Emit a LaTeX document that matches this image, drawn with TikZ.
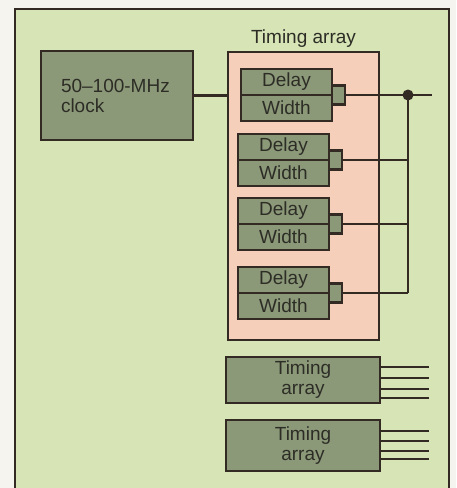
\documentclass[tikz,border=0pt]{standalone}
\usepackage{fontspec}
\setmainfont{Liberation Sans}
\usepackage{tikz}
\usetikzlibrary{calc,positioning}
\definecolor{tmPaper}{RGB}{246,244,238}
\definecolor{tmPanel}{RGB}{214,228,182}
\definecolor{tmBox}{RGB}{139,153,121}
\definecolor{tmPink}{RGB}{246,207,186}
\definecolor{tmInk}{RGB}{52,42,36}
\definecolor{tmText}{RGB}{45,45,38}

\begin{document}
\begin{tikzpicture}[x=1pt,y=-1pt,
  txt/.style={font=\fontsize{19}{20}\selectfont, text=tmText},
  box/.style={draw=tmInk, fill=tmBox, line width=2.6pt, inner sep=0pt, outer sep=0pt, txt},
  unit/.style={box, minimum width=91pt, minimum height=26pt},
  tap/.style={draw=tmInk, fill=tmBox, line width=2.4pt, inner sep=0pt, outer sep=0pt, minimum width=13pt, minimum height=19pt},
  wire/.style={tmInk, line width=2.3pt}]
\useasboundingbox[fill=tmPaper] (0,0) rectangle (456,488);
\fill[tmPanel] (15,9) rectangle (449,488);
\draw[tmInk, line width=2.6pt] (15,488) -- (15,9) -- (449,9) -- (449,488);

\node[box, anchor=north west, minimum width=152pt, minimum height=89pt, text width=112pt, align=left] (clock) at (41,51) {50--100-MHz\\clock};

\node[draw=tmInk, fill=tmPink, line width=2.6pt, outer sep=0pt, anchor=north west, minimum width=151pt, minimum height=288pt,
  label={[txt, label distance=1pt]above:Timing array}] (array) at (228,52) {};
\draw[wire] (clock.east) -- (clock.east -| array.west);

\foreach \i/\x/\y in {1/241/69, 2/238/134, 3/238/198, 4/238/267}{
  \node[unit, anchor=north west] (delay\i) at (\x,\y) {Delay};
  \node[unit, anchor=north] (width\i) at (delay\i.south) {Width};
  \node[tap, anchor=west] (tap\i) at (delay\i.south east) {};
}

\coordinate (dot) at (408,95);
\coordinate (out) at (432,95);
\draw[wire] (tap1.east) -- (out);
\foreach \i in {2,3,4}
  \draw[wire] (tap\i.east) -- (tap\i.east -| dot);
\draw[wire] (dot) -- (dot |- tap4.east);
\fill[tmInk] (dot) circle (5.5);

\node[box, anchor=north west, minimum width=154pt, minimum height=46pt, align=center] (lower1) at (226,357) {Timing\\array};
\node[box, anchor=north west, minimum width=154pt, minimum height=51pt, align=center] (lower2) at (226,420) {Timing\\array};
\foreach \d in {10,21,32,41}
  \draw[wire] ([yshift=-\d pt]lower1.north east) -- ++(49,0);
\foreach \d in {11,21,31,39}
  \draw[wire] ([yshift=-\d pt]lower2.north east) -- ++(49,0);
\end{tikzpicture}
\end{document}
